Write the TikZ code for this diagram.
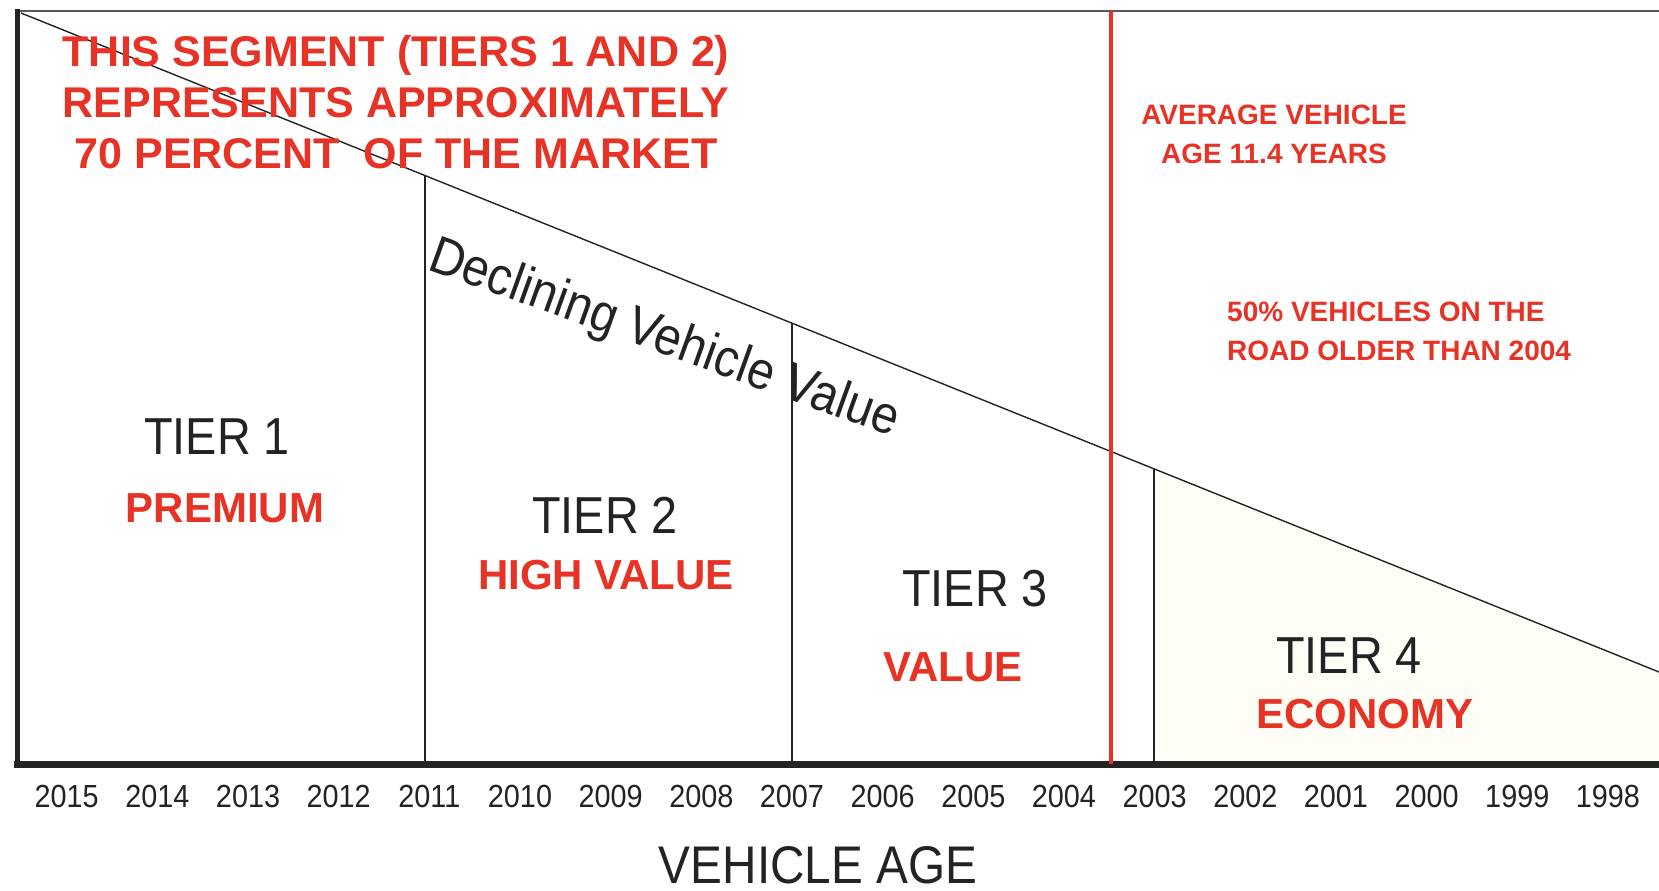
\documentclass[tikz,border=0pt]{standalone}
\usepackage{fontspec}
\setmainfont{Liberation Sans}
\newfontfamily\narrow[FakeStretch=0.9]{Liberation Sans}
\usetikzlibrary{calc}

\definecolor{segred}{RGB}{231,50,38}
\definecolor{ink}{RGB}{35,35,35}
\definecolor{cream}{RGB}{254,254,246}

\tikzset{
  tier/.style={font=\narrow\fontsize{52}{60}\selectfont, text=ink, inner sep=0},
  tiername/.style={font=\bfseries\fontsize{42}{50}\selectfont, text=segred, inner sep=0},
  note/.style={font=\bfseries\fontsize{28}{39}\selectfont, text=segred, inner sep=0},
  divider/.style={draw=ink, line width=1.4pt},
  year/.style={font=\narrow\fontsize{32}{32}\selectfont, text=ink, inner sep=0}
}

\begin{document}
\begin{tikzpicture}[x=1pt,y=-1pt]
\useasboundingbox (0,0) rectangle (1659,891);

% corners of the chart
\coordinate (top) at (21,13);
\coordinate (tip) at (1659,672);
\coordinate (origin) at (17,764);
\coordinate (end) at (1659,764);

% tier borders sit on the value line
\coordinate (d1) at ($(top)!0.2466!(tip)$);
\coordinate (d2) at ($(top)!0.4707!(tip)$);
\coordinate (d3) at ($(top)!0.6917!(tip)$);

% economy tier is shaded
\fill[cream] (d3) -- (tip) -- (end) -- (d3 |- origin) -- cycle;

% frame
\draw[gray!70!black, line width=2pt] (15,11) -- (1659,11);
\draw[ink, line width=5pt] (17,9) -- (origin);
\draw[ink, line width=7pt] (14,764) -- (end);

% value line and tier borders
\draw[ink, line width=1.4pt] (top) -- (tip);
\foreach \n in {d1,d2,d3}
  \draw[divider] (\n) -- (\n |- origin);

% average age
\coordinate (avg) at (1111,11);
\draw[segred, line width=4pt] (avg) -- (avg |- origin);

% text
\node[font=\bfseries\fontsize{43}{51}\selectfont, text=segred, align=center, inner sep=0] (segment) at (396,102)
  {THIS SEGMENT (TIERS 1 AND 2)\\REPRESENTS APPROXIMATELY\\70 PERCENT \ OF THE MARKET};
\node[note, align=center] (average) at (1274,134) {AVERAGE VEHICLE\\AGE 11.4 YEARS};
\node[note, align=left, anchor=west] (older) at (1227,331) {50\% VEHICLES ON THE\\ROAD OLDER THAN 2004};

\node[rotate=-19.8, font=\narrow\fontsize{53}{60}\selectfont, text=ink, inner sep=0] (decline) at (664,340) {Declining Vehicle Value};

\node[tier] (t1) at (217,437) {TIER 1};
\node[tiername] (p1) at (225,508) {PREMIUM};
\node[tier] (t2) at (605,515) {TIER 2};
\node[tiername] (p2) at (606,575) {HIGH VALUE};
\node[tier] (t3) at (975,589) {TIER 3};
\node[tiername] (p3) at (953,667) {VALUE};
\node[tier] (t4) at (1349,656) {TIER 4};
\node[tiername] (p4) at (1365,714) {ECONOMY};

% model years
\foreach \yr [count=\i from 0] in {2015,2014,...,1998}
  \node[year] (y\yr) at ({66.7+\i*90.66},796) {\yr};

\node[font=\narrow\fontsize{53}{60}\selectfont, text=ink, inner sep=0] (axis) at (818,865) {VEHICLE AGE};
\end{tikzpicture}
\end{document}
